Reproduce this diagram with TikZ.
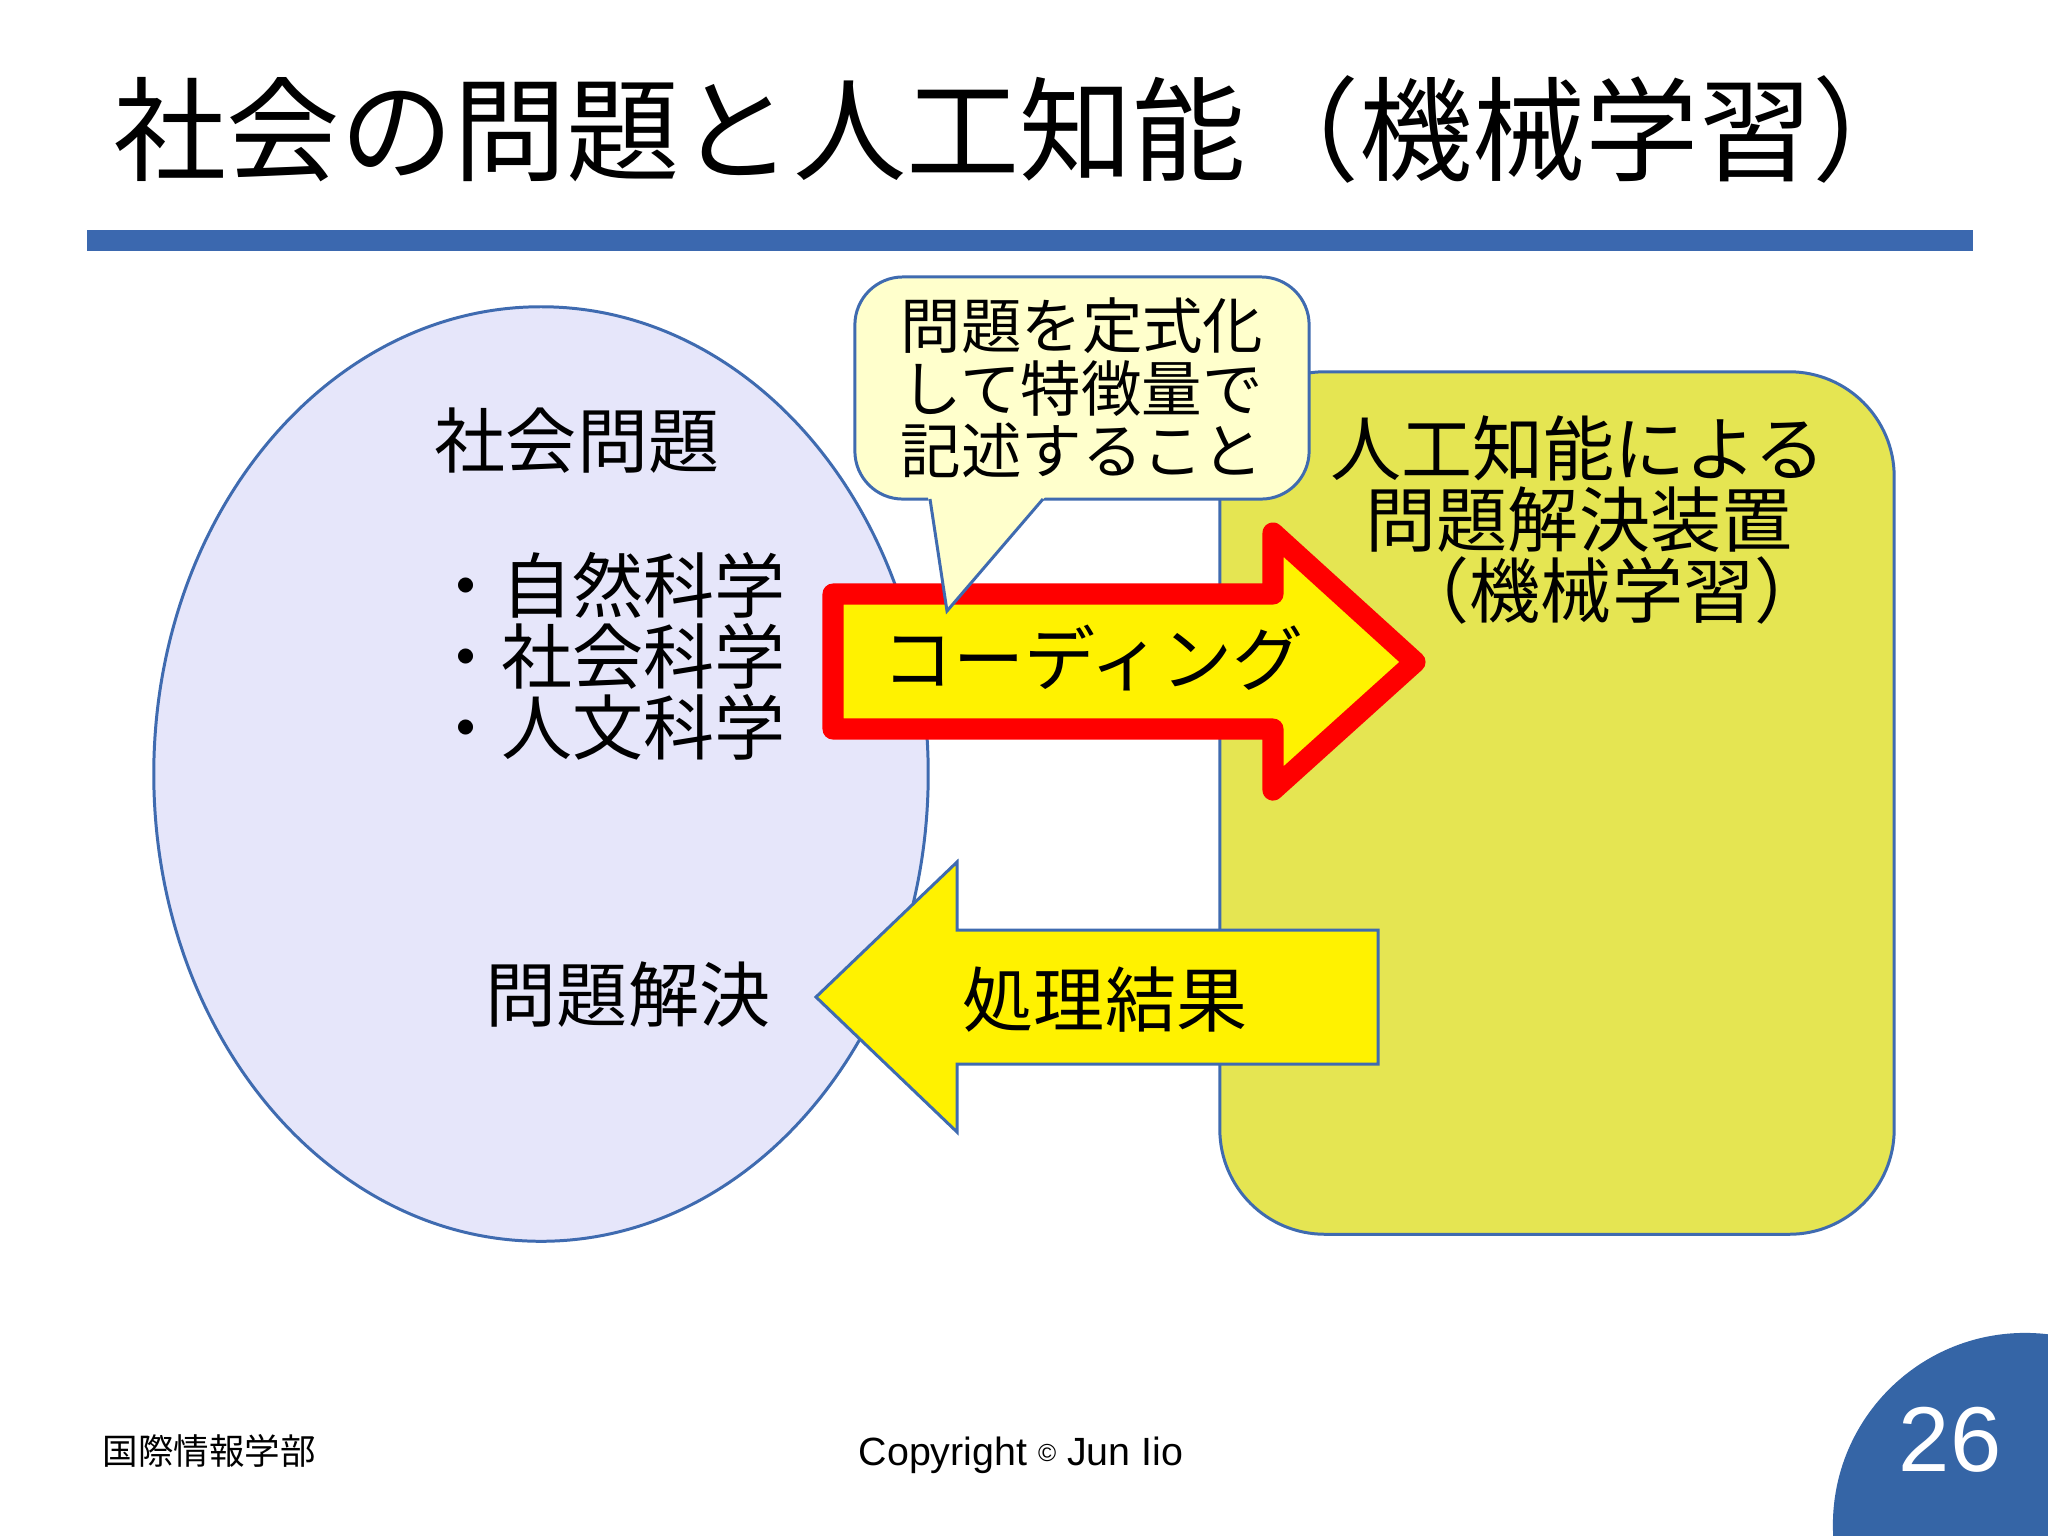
\documentclass[tikz,border=0pt]{standalone}
\usepackage{fontspec}
\setmainfont{Liberation Sans}
\newfontfamily\jp{Noto Sans CJK JP}
\usetikzlibrary{shapes.geometric}
\definecolor{barblue}{HTML}{3B68AF}
\definecolor{lineblue}{HTML}{3F6BB0}
\definecolor{lav}{HTML}{E6E6FA}
\definecolor{olive}{HTML}{E5E552}
\definecolor{cream}{HTML}{FFFFCC}
\definecolor{pgblue}{HTML}{3565A6}
\begin{document}
\begin{tikzpicture}[x=0.01cm,y=-0.01cm,
  jpt/.style={font=\jp\fontsize{20.2pt}{20.2pt}\selectfont, inner sep=0pt},
  outl/.style={draw=lineblue, line width=0.85pt}]
\useasboundingbox (0,0) rectangle (2048,1535);
\clip (0,0) rectangle (2048,1535);
\fill[white] (0,0) rectangle (2048,1535);

% title and bar
\node[anchor=west, font=\jp\fontsize{32.2pt}{36pt}\selectfont, inner sep=0] (title) at (113,129) {社会の問題と人工知能（機械学習）};
\fill[barblue] (87,230) rectangle (1973,251);

% ellipse and box
\node[outl, fill=lav, ellipse, minimum width=7.74cm, minimum height=9.34cm, inner sep=0] (ell) at (541,774) {};
\node[outl, fill=olive, rounded corners=1.05cm, minimum width=6.74cm, minimum height=8.62cm, inner sep=0] (box) at (1557,803) {};

% coding arrow
\draw[draw=red, fill=yellow, line width=6pt, line join=round] (833,594) -- (1273,594) -- (1273,533) -- (1415,662) -- (1273,790) -- (1273,729) -- (833,729) -- cycle;

% callout
\node[outl, fill=cream, rounded corners=0.48cm, minimum width=4.54cm, minimum height=2.22cm, inner sep=0, align=center, font=\jp\fontsize{17.2pt}{17.8pt}\selectfont] (call) at (1082,388) {問題を定式化\\して特徴量で\\記述すること};
\fill[cream] (928,497) -- (947,611) -- (1045,497) -- cycle;
\draw[outl, line join=miter] (930,499) -- (947,611) -- (1043,499);

% result arrow
\draw[outl, fill=yellow] (816,997) -- (957,862) -- (957,930) -- (1378,930) -- (1378,1064) -- (957,1064) -- (957,1132) -- cycle;

% texts
\node[jpt] (t1) at (577,441) {社会問題};
\node[jpt, anchor=west, align=left] (t2) at (430,656) {・自然科学\\・社会科学\\・人文科学};
\node[jpt] (t3) at (628,995) {問題解決};
\node[jpt] (r1) at (1578,448) {人工知能による};
\node[jpt] (r2) at (1579,520) {問題解決装置};
\node[jpt] (r3) at (1612,590) {（機械学習）};
\node[jpt] (cod) at (1093,658) {コーディング};
\node[jpt] (res) at (1105,1000) {処理結果};

% footer
\node[anchor=west, inner sep=0, font=\jp\fontsize{10.1pt}{12pt}\selectfont] (dept) at (102,1451) {国際情報学部};
\node[anchor=base west, inner sep=0, font=\fontsize{11.2pt}{13pt}\selectfont] (copy) at (858,1465) {Copyright {\fontsize{7pt}{7pt}\selectfont\raisebox{0.25ex}{©}} Jun Iio};
\node[circle, fill=pgblue, minimum size=3.84cm, inner sep=0] (pgc) at (2025,1525) {};
\node[font=\fontsize{26.2pt}{30pt}\selectfont, text=white, inner sep=0] (pg) at (1950,1440) {26};
\end{tikzpicture}
\end{document}
